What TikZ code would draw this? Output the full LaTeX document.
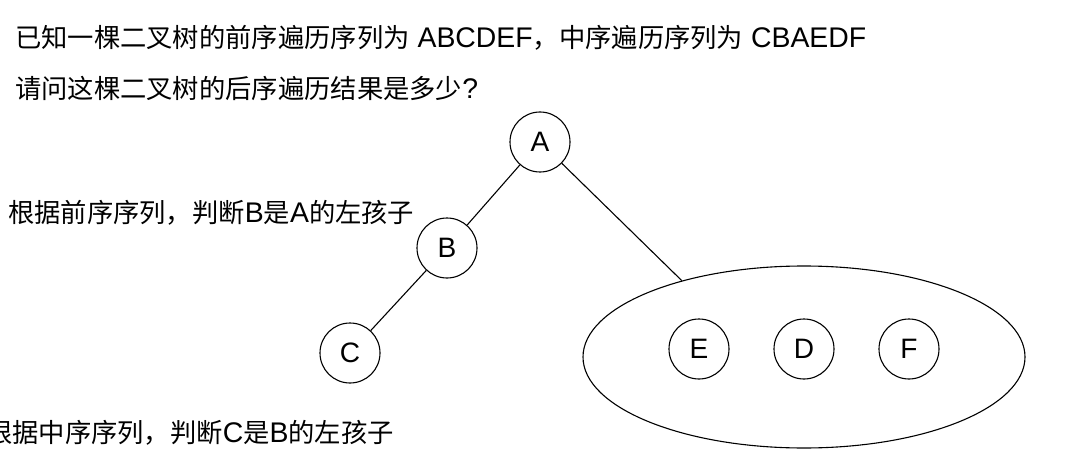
\documentclass[tikz,border=0pt]{standalone}
\usepackage{fontspec}
\setmainfont{Noto Sans CJK SC}
\newfontfamily\latfont[Scale=1.08]{Liberation Sans}
\newcommand{\latn}[1]{{\latfont #1}}
\usetikzlibrary{shapes.geometric}
\tikzset{
  txt/.style={anchor=west, inner sep=0pt, font=\fontsize{26.3}{30}\selectfont},
  tnode/.style={circle, draw, line width=1.1pt, minimum size=60pt, inner sep=0pt, font=\fontsize{26}{30}\selectfont\latfont},
  link/.style={line width=1.1pt},
  grpbox/.style={ellipse, draw, line width=1.1pt, minimum width=442pt, minimum height=182pt, inner sep=0pt}
}
\begin{document}
\begin{tikzpicture}[x=1pt, y=-1pt]
\useasboundingbox (0,0) rectangle (1071,476);
\node[txt] (q1) at (15,38) {已知一棵二叉树的前序遍历序列为\latn{ ABCDEF}，中序遍历序列为\latn{ CBAEDF}};
\node[txt] (q2) at (15,88) {请问这棵二叉树的后序遍历结果是多少\latn{?}};
\node[txt] (l1) at (8,213) {根据前序序列，判断\latn{B}是\latn{A}的左孩子};
\node[txt] (l2) at (-14,433) {根据中序序列，判断\latn{C}是\latn{B}的左孩子};
\node[grpbox] (grp) at (804,357) {};
\node[tnode] (A) at (540,142) {A};
\node[tnode] (B) at (447,248) {B};
\node[tnode] (C) at (350,353) {C};
\node[tnode] (E) at (699,349) {E};
\node[tnode] (D) at (804,349) {D};
\node[tnode] (F) at (909,349) {F};
\draw[link] (A) -- (B);
\draw[link] (B) -- (C);
\draw[link] (A) -- (grp.148);
\end{tikzpicture}
\end{document}
